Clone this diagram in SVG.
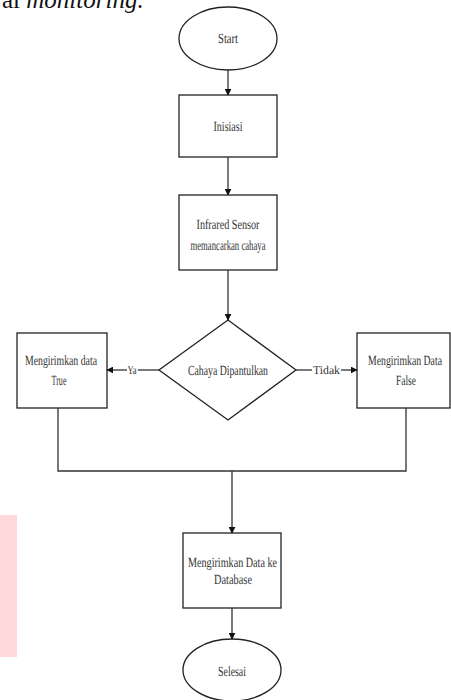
<svg xmlns="http://www.w3.org/2000/svg" width="451" height="700" viewBox="0 0 451 700">
<style>
.s{fill:#fff;stroke:#222;stroke-width:1.3}
.t{font-family:"Liberation Serif",serif;font-size:14px;fill:#333;text-anchor:middle;text-rendering:geometricPrecision}
.l{font-size:12px}
.c{fill:none;stroke:#333;stroke-width:1.3}
</style>
<defs>
<marker id="a" viewBox="0 0 10 10" refX="9" refY="5" markerWidth="7" markerHeight="7" orient="auto" markerUnits="userSpaceOnUse">
<path d="M0,0 L10,5 L0,10 z" fill="#111"/>
</marker>
</defs>
<rect width="451" height="700" fill="#fff"/>
<text x="2" y="8" font-family="Liberation Serif,serif" font-size="25" fill="#111">al <tspan font-style="italic">monitoring.</tspan></text>
<rect x="0" y="515" width="17" height="142" fill="#ffd9d9"/>
<g id="start"><ellipse class="s" cx="228" cy="38.5" rx="49" ry="31.5"/><text class="t" x="228" y="43" textLength="20" lengthAdjust="spacingAndGlyphs">Start</text></g>
<g id="inisiasi"><rect class="s" x="179" y="95" width="98" height="62"/><text class="t" x="228" y="131" textLength="29" lengthAdjust="spacingAndGlyphs">Inisiasi</text></g>
<g id="sensor"><rect class="s" x="179" y="195" width="98" height="75"/><text class="t" x="228" y="229" textLength="63" lengthAdjust="spacingAndGlyphs">Infrared Sensor</text><text class="t" x="228" y="250" textLength="75" lengthAdjust="spacingAndGlyphs">memancarkan cahaya</text></g>
<g id="decision"><polygon class="s" points="228,320 296,370 228,420 159,370"/><text class="t" x="228" y="375" textLength="80" lengthAdjust="spacingAndGlyphs">Cahaya Dipantulkan</text></g>
<g id="true"><rect class="s" x="17" y="333" width="90" height="75"/><text class="t" x="61" y="365" textLength="72" lengthAdjust="spacingAndGlyphs">Mengirimkan data</text><text class="t" x="59" y="385" textLength="15" lengthAdjust="spacingAndGlyphs">True</text></g>
<g id="false"><rect class="s" x="357" y="333" width="93" height="75"/><text class="t" x="405" y="365" textLength="74" lengthAdjust="spacingAndGlyphs">Mengirimkan Data</text><text class="t" x="406" y="385" textLength="20" lengthAdjust="spacingAndGlyphs">False</text></g>
<g id="database"><rect class="s" x="183" y="533" width="98" height="75"/><text class="t" x="232.5" y="567" textLength="89" lengthAdjust="spacingAndGlyphs">Mengirimkan Data ke</text><text class="t" x="233" y="584" textLength="38" lengthAdjust="spacingAndGlyphs">Database</text></g>
<g id="selesai"><ellipse class="s" cx="232" cy="670" rx="49" ry="31"/><text class="t" x="232" y="676" textLength="28" lengthAdjust="spacingAndGlyphs">Selesai</text></g>
<g id="connectors">
<line class="c" x1="159" y1="370" x2="138" y2="370"/>
<line class="c" x1="127" y1="370" x2="107" y2="370" marker-end="url(#a)"/>
<line class="c" x1="296" y1="370" x2="312" y2="370"/>
<line class="c" x1="341" y1="370" x2="357" y2="370" marker-end="url(#a)"/>
<text class="t l" x="132" y="374" textLength="9" lengthAdjust="spacingAndGlyphs">Ya</text>
<text class="t l" x="326.5" y="374" textLength="27" lengthAdjust="spacingAndGlyphs">Tidak</text>
<line class="c" x1="228" y1="70" x2="228" y2="95" marker-end="url(#a)"/>
<line class="c" x1="228" y1="157" x2="228" y2="195" marker-end="url(#a)"/>
<line class="c" x1="228" y1="270" x2="228" y2="320" marker-end="url(#a)"/>
<polyline class="c" points="58,408 58,471 406,471 406,408"/>
<line class="c" x1="232" y1="471" x2="232" y2="533" marker-end="url(#a)"/>
<line class="c" x1="232" y1="608" x2="232" y2="639" marker-end="url(#a)"/>
</g>
</svg>
